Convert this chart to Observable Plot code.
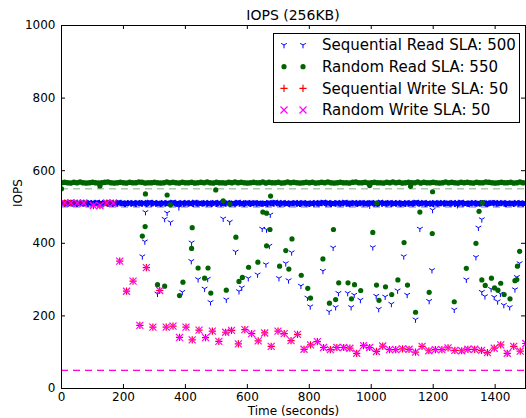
<!DOCTYPE html>
<html>
<head>
<meta charset="utf-8">
<script src="https://cdn.jsdelivr.net/npm/d3@7"></script>
<script src="https://cdn.jsdelivr.net/npm/@observablehq/plot@0.6"></script>
<style>
  html, body { margin: 0; padding: 0; background: #fff; }
  #wrap { position: relative; width: 526px; height: 418px; font-family: "DejaVu Sans", sans-serif; }
  #legend { position: absolute; left: 273px; top: 33px; }
  #title { position: absolute; left: 61px; width: 464px; top: 7px; text-align: center; font-size: 14px; line-height: 16px; color: #000; }
</style>
</head>
<body>
<div id="wrap"><div id="title"></div></div>
<script>
// ---------------- data ----------------
const chartTitle = "IOPS (256KB)";
const xLabel = "Time (seconds)";
const yLabel = "IOPS";
const xTicks = [0, 200, 400, 600, 800, 1000, 1200, 1400];
const yTicks = [0, 200, 400, 600, 800, 1000];

const seriesNames = ["Sequential Read", "Random Read", "Sequential Write", "Random Write"];
const seriesSLA = [500, 550, 50, 50];
const seriesColors = ["#0000ff", "#006400", "#ff0000", "#ff00ff"];

// dense steady-state samples forming the bands near the top
const seqReadBandTimes = d3.range(0, 1500, 5);   // every 5 s
const seqReadBandIOPS = [
  511,513,510,512,509,511,514,510,512,511,
  509,512,511,513,510,511,512,509,513,511,
  512,510,511,514,509,512,511,510,513,512,
  510,511,513,509,512,511,510,514,511,512,
  511,509,512,511,513,510,512,511,509,513,
  512,511,510,513,511,509,512,514,510,511,
  513,510,511,512,509,511,513,510,512,511,
  510,512,514,511,510,512,509,511,513,510,
  511,513,510,512,511,509,514,511,510,512,
  512,510,511,513,510,512,511,509,512,513,
  509,511,513,510,512,511,510,513,511,509,
  511,512,510,511,514,510,512,511,509,512,
  513,511,509,512,511,513,510,512,511,510,
  510,512,511,509,513,511,512,510,514,511,
  512,509,511,513,510,512,511,509,512,511,
  511,513,510,512,509,511,513,511,510,512,
  509,511,512,510,513,511,510,512,511,514,
  512,510,513,511,509,512,511,510,513,511,
  510,512,511,514,510,511,509,512,511,513,
  511,509,512,511,513,510,512,511,510,512,
  513,511,510,512,509,511,514,510,512,511,
  510,512,513,509,511,512,510,513,511,509,
  512,511,509,513,510,512,511,510,512,514,
  511,510,512,511,513,509,511,512,510,511,
  509,513,511,510,512,511,513,510,511,512,
  512,510,511,513,509,512,510,511,514,510,
  511,512,510,509,512,511,513,511,510,512,
  510,511,513,512,510,509,511,512,513,511,
  513,510,511,512,511,513,510,509,512,511,
  511,512,509,511,513,510,512,511,510,512
];
const randReadBandTimes = d3.range(0, 1500, 10); // every 10 s
const randReadBandIOPS = [
  567,568,567,566,568,567,569,567,566,567,
  568,567,566,567,568,569,567,566,567,568,
  567,566,568,567,567,569,568,566,567,567,
  568,567,566,567,569,567,568,567,566,568,
  567,567,568,566,567,568,567,569,567,566,
  568,567,567,566,568,567,569,567,568,567,
  566,567,568,567,567,569,566,568,567,567,
  568,566,567,569,567,568,567,566,567,568,
  567,568,566,567,568,567,569,567,566,567,
  568,567,567,566,568,569,567,567,568,566,
  567,568,567,567,566,568,567,569,567,568,
  566,567,568,567,567,569,566,568,567,567,
  568,567,566,567,569,567,568,567,566,568,
  567,568,567,566,568,567,567,569,568,567,
  566,567,568,567,567,568,566,567,569,567
];

// scattered samples
const seqReadTimes = [261,269,271,310,333,341,352,379,390,419,420,441,462,472,481,522,532,543,562,573,
  582,603,633,648,660,662,671,674,702,724,733,743,773,794,803,844,864,877,885,894,
  924,935,945,965,995,1005,1016,1024,1045,1065,1085,1105,1116,1143,1157,1187,1196,1198,1268,1278,
  1307,1338,1346,1357,1357,1367,1387,1397,1408,1417,1428,1447,1464,1470,1479];
const seqReadIOPS = [364,405,486,261,467,484,458,499,266,351,402,301,275,302,238,468,245,459,377,268,
  278,304,314,440,342,438,393,479,304,345,298,375,283,250,226,324,212,388,224,263,
  263,224,258,244,504,389,255,219,253,233,270,364,258,190,440,241,326,492,217,505,
  300,362,443,466,266,254,274,252,240,261,230,224,273,307,345];

const randReadTimes = [0,124,261,270,271,310,333,341,352,381,392,420,422,441,462,473,482,498,522,532,
  543,563,573,584,604,634,650,662,662,673,675,704,724,734,744,774,795,804,844,865,
  878,885,895,925,936,946,966,995,1005,1017,1018,1025,1046,1066,1086,1106,1117,1127,1143,1157,
  1187,1197,1198,1268,1307,1338,1348,1357,1359,1368,1388,1398,1409,1418,1429,1448,1464,1470,1472,1479];
const randReadIOPS = [550,558,420,446,536,286,282,533,506,256,293,386,443,332,304,332,263,547,517,271,
  508,417,295,306,334,348,486,483,393,438,530,337,380,329,412,312,276,249,357,235,
  438,245,291,291,247,286,270,559,430,285,511,243,280,259,299,402,285,557,210,486,
  265,427,542,239,331,400,488,299,512,284,304,277,271,290,259,247,297,300,337,378];

const writeTimes = [10,30,51,72,103,124,146,167,188,210,231,253,274,295,317,338,360,381,402,422,
  444,465,487,508,530,549,571,592,614,635,656,677,699,719,741,762,783,804,826,846,
  868,889,911,931,953,975,995,1017,1037,1059,1079,1101,1122,1143,1164,1186,1207,1228,1248,1270,
  1292,1312,1334,1356,1375,1397,1418,1439,1460,1481,1499];
const seqWriteIOPS = [511,511,511,511,504,504,511,511,351,268,296,174,333,169,270,169,172,141,169,134,
  161,140,158,130,155,160,123,162,151,131,153,116,158,151,132,149,108,120,129,113,
  107,113,113,111,97,118,113,102,117,107,107,109,108,100,116,104,107,107,112,105,
  104,108,108,105,99,111,120,97,116,103,124];
const randWriteIOPS = [511,511,511,511,504,504,511,511,351,268,296,174,333,169,270,169,172,141,169,134,
  161,140,158,130,155,160,123,162,151,131,153,116,158,151,132,149,108,120,129,113,
  107,113,113,111,97,118,113,102,117,107,107,109,108,100,116,104,107,107,112,105,
  104,108,108,105,99,111,120,97,116,103,124];

// ---------------- tables ----------------
const zip = (ts, vs) => ts.map((t, i) => ({t, v: vs[i]}));
const seqReadBand = zip(seqReadBandTimes, seqReadBandIOPS);
const randReadBand = zip(randReadBandTimes, randReadBandIOPS);
const seqRead = zip(seqReadTimes, seqReadIOPS);
const randRead = zip(randReadTimes, randReadIOPS);
const seqWrite = zip(writeTimes, seqWriteIOPS);
const randWrite = zip(writeTimes, randWriteIOPS);

// ---------------- marker shapes (matplotlib-like) ----------------
const mk = f => ({draw(ctx, size) { f(ctx, Math.sqrt(size / Math.PI)); }});
const triDown = mk((c, r) => {
  c.moveTo(0, 0); c.lineTo(0, r);
  c.moveTo(0, 0); c.lineTo(-r * 0.866, -r * 0.5);
  c.moveTo(0, 0); c.lineTo(r * 0.866, -r * 0.5);
});
const plusSym = mk((c, r) => { c.moveTo(-r, 0); c.lineTo(r, 0); c.moveTo(0, -r); c.lineTo(0, r); });
const timesSym = mk((c, r) => { c.moveTo(-r, -r); c.lineTo(r, r); c.moveTo(-r, r); c.lineTo(r, -r); });

const markerStyles = [
  {symbol: triDown, r: 3.3, stroke: seriesColors[0], fill: "none", strokeWidth: 1},
  {symbol: "circle", r: 2.6, fill: seriesColors[1], stroke: "none"},
  {symbol: plusSym, r: 3.6, stroke: seriesColors[2], fill: "none", strokeWidth: 1.2},
  {symbol: timesSym, r: 3.5, stroke: seriesColors[3], fill: "none", strokeWidth: 1.2}
];
const slaStyles = [
  {stroke: seriesColors[0], strokeOpacity: 0.6},
  {stroke: seriesColors[1], strokeOpacity: 0.5},
  {stroke: seriesColors[2], strokeOpacity: 1},
  {stroke: seriesColors[3], strokeOpacity: 1}
];
const sla = i => Plot.ruleY([seriesSLA[i]], {...slaStyles[i], strokeWidth: 1, strokeDasharray: "7,5"});
const pts = (data, i, extra = {}) => Plot.dot(data, {x: "t", y: "v", ...markerStyles[i], ...extra, clip: true});

const fmt = d => String(d);
const W = 526, H = 418, mT = 25, mB = 30, mL = 61, mR = 1;
const innerW = W - mL - mR, innerH = H - mT - mB, tickLen = 4;

const chart = Plot.plot({
  width: W,
  height: H,
  marginTop: mT,
  marginBottom: mB,
  marginLeft: mL,
  marginRight: mR,
  style: {fontFamily: "'DejaVu Sans', sans-serif", fontSize: "12px", color: "#000", background: "#fff"},
  x: {domain: [0, 1498]},
  y: {domain: [0, 1000]},
  marks: [
    pts(seqReadBand, 0, {strokeWidth: 2}), pts(seqRead, 0), sla(0),
    pts(randReadBand, 1, {r: 2.8}), pts(randRead, 1), sla(1),
    pts(seqWrite, 2), sla(2),
    pts(randWrite, 3), sla(3),
    Plot.frame({stroke: "#000", strokeWidth: 1}),
    // inward ticks on all four sides (matplotlib style)
    Plot.ruleX(xTicks, {x: d => d, stroke: "#000", insetTop: innerH - tickLen}),
    Plot.ruleX(xTicks, {x: d => d, stroke: "#000", insetBottom: innerH - tickLen}),
    Plot.ruleY(yTicks, {y: d => d, stroke: "#000", insetRight: innerW - tickLen}),
    Plot.ruleY(yTicks, {y: d => d, stroke: "#000", insetLeft: innerW - tickLen}),
    Plot.axisX({anchor: "bottom", ticks: xTicks, tickSize: 0, tickPadding: 4, tickFormat: fmt, label: null}),
    Plot.axisY({anchor: "left", ticks: yTicks, tickSize: 0, tickPadding: 6, tickFormat: fmt, label: null}),
    Plot.text([xLabel], {frameAnchor: "bottom", dy: 26, fontSize: 12, fill: "#000"}),
    Plot.text([yLabel], {frameAnchor: "left", dx: -43, rotate: -90, fontSize: 12, fill: "#000"})
  ]
});
const wrap = document.getElementById("wrap");
wrap.insertBefore(chart, wrap.firstChild);
document.getElementById("title").textContent = chartTitle;

// ---------------- legend (overlay inside the axes, upper right) ----------------
const legW = 247, legH = 90, rowY = [12, 33.7, 55.3, 77];
const leg = d3.create("svg").attr("id", "legend").attr("width", legW).attr("height", legH);
leg.append("rect").attr("x", 0.5).attr("y", 0.5).attr("width", legW - 1).attr("height", legH - 1)
  .attr("fill", "#fff").attr("stroke", "#000").attr("stroke-width", 1);
seriesNames.forEach((name, i) => {
  const s = markerStyles[i];
  const size = Math.PI * s.r * s.r;
  const path = s.symbol === "circle" ? d3.symbol(d3.symbolCircle, size)() : d3.symbol(s.symbol, size)();
  [11, 30].forEach(x => {
    leg.append("path").attr("d", path).attr("transform", `translate(${x},${rowY[i]})`)
      .attr("fill", s.fill).attr("stroke", s.stroke).attr("stroke-width", s.strokeWidth || 0);
  });
  leg.append("text").attr("x", 49).attr("y", rowY[i]).attr("dy", "0.35em")
    .attr("font-family", "'DejaVu Sans', sans-serif").attr("font-size", 15).attr("fill", "#000")
    .text(`${name} SLA: ${seriesSLA[i]}`);
});
wrap.appendChild(leg.node());
</script>
</body>
</html>
